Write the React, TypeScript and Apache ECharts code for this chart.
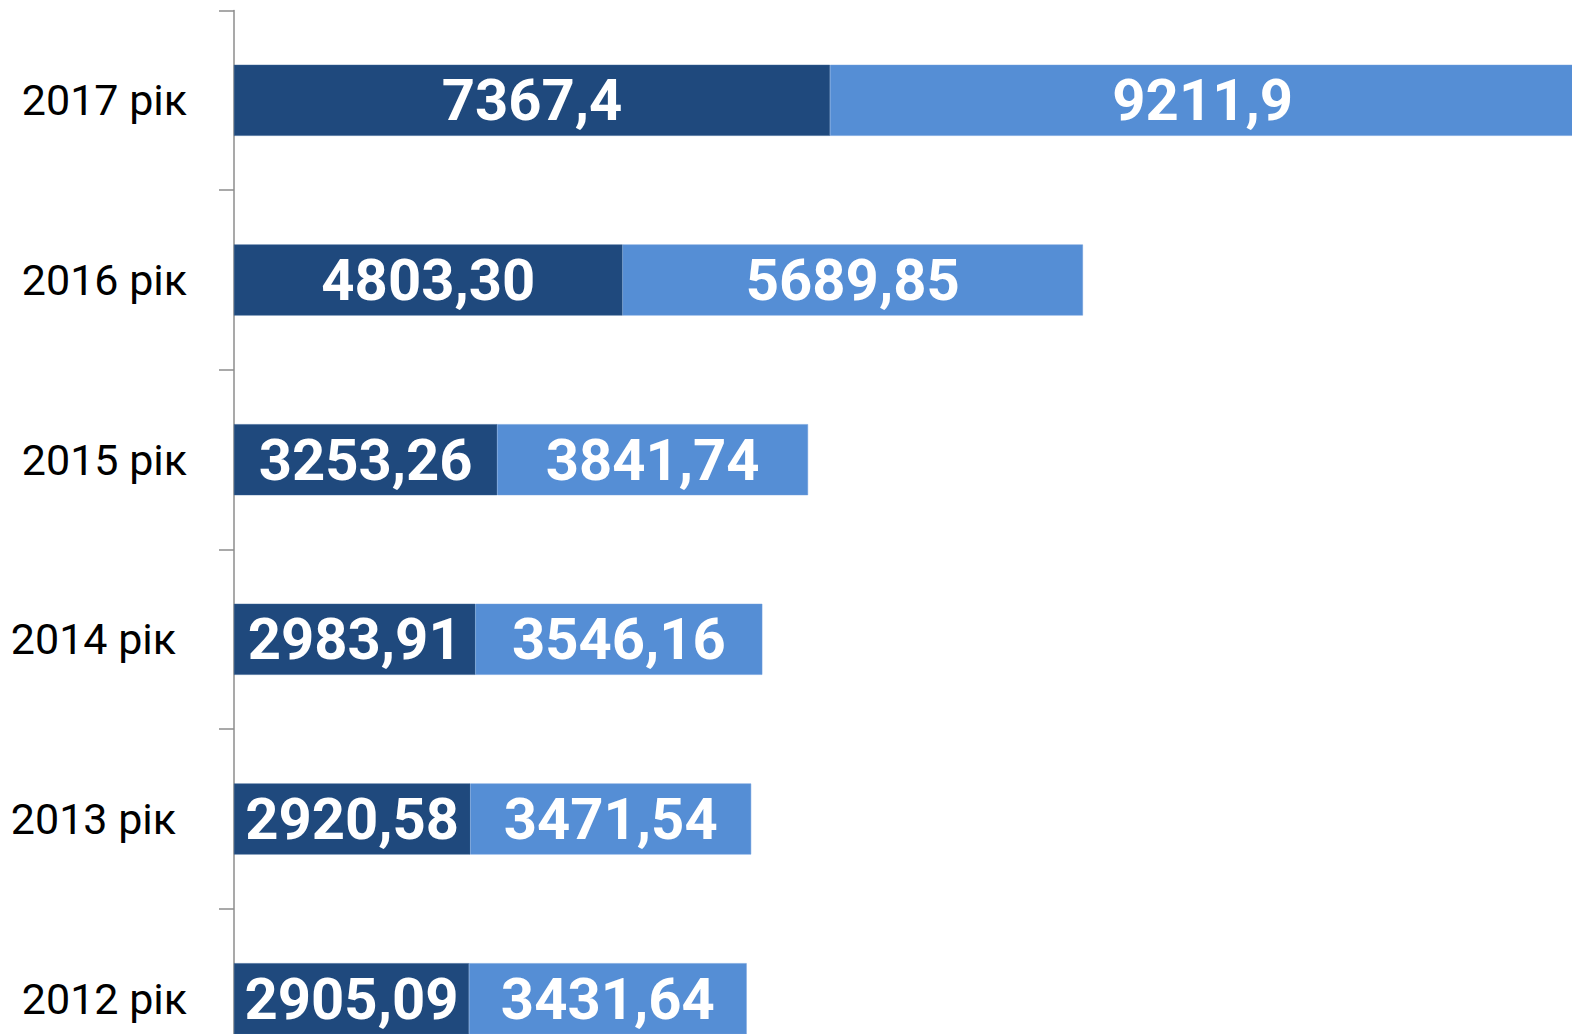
import React, { useEffect, useRef } from "react";
import * as echarts from "echarts";

const categories = ["2012 рік", "2013 рік ", "2014 рік ", "2015 рік", "2016 рік", "2017 рік"];
const darkValues = [2905.09, 2920.58, 2983.91, 3253.26, 4803.3, 7367.4];
const lightValues = [3431.64, 3471.54, 3546.16, 3841.74, 5689.85, 9211.9];
const decimals = [2, 2, 2, 2, 2, 1];

const fmt = (v: number, i: number) => v.toFixed(decimals[i]).replace(".", ",");

export default function App() {
  const ref = useRef<HTMLDivElement>(null);
  useEffect(() => {
    if (!ref.current) return;
    const chart = echarts.init(ref.current, null, { renderer: "svg" });
    const labelStyle = {
      show: true,
      position: "inside",
      color: "#ffffff",
      fontFamily: "Roboto",
      fontWeight: "bold",
      fontSize: 58,
    };
    chart.setOption({
      animation: false,
      backgroundColor: "#ffffff",
      grid: { left: 234, top: 10.5, width: 1345, height: 1078 },
      xAxis: {
        type: "value",
        min: 0,
        max: 16625,
        show: false,
      },
      yAxis: {
        type: "category",
        data: categories,
        axisLine: { show: true, lineStyle: { color: "#8c8c8c", width: 1.5 } },
        axisTick: { show: true, length: 15, lineStyle: { color: "#8c8c8c", width: 1.5 } },
        axisLabel: {
          margin: 47,
          color: "#000000",
          fontFamily: "Roboto",
          fontSize: 43,
          formatter: (v: string) => (v.endsWith(" ") ? `{s|${v.trim()}}` : `{n|${v}}`),
          rich: {
            n: { fontFamily: "Roboto", fontSize: 43, color: "#000000" },
            s: { fontFamily: "Roboto", fontSize: 43, color: "#000000", padding: [0, 11, 0, 0] },
          },
        },
        splitLine: { show: false },
      },
      series: [
        {
          type: "bar",
          stack: "total",
          data: darkValues,
          barWidth: 71,
          itemStyle: { color: "#1F497D", borderColor: "#2f5a8f", borderWidth: 0.5 },
          label: { ...labelStyle, formatter: (p: any) => fmt(p.value, p.dataIndex) },
        },
        {
          type: "bar",
          stack: "total",
          data: lightValues,
          barWidth: 71,
          itemStyle: { color: "#558ED5", borderColor: "#6a9bdb", borderWidth: 0.5 },
          label: { ...labelStyle, formatter: (p: any) => fmt(p.value, p.dataIndex) },
        },
      ],
    });
    return () => chart.dispose();
  }, []);
  return (
    <div
      style={{
        position: "fixed",
        left: 0,
        top: 0,
        width: 1572,
        height: 1034,
        overflow: "hidden",
        background: "#ffffff",
      }}
    >
      <div ref={ref} style={{ width: 1600, height: 1100 }} />
    </div>
  );
}
